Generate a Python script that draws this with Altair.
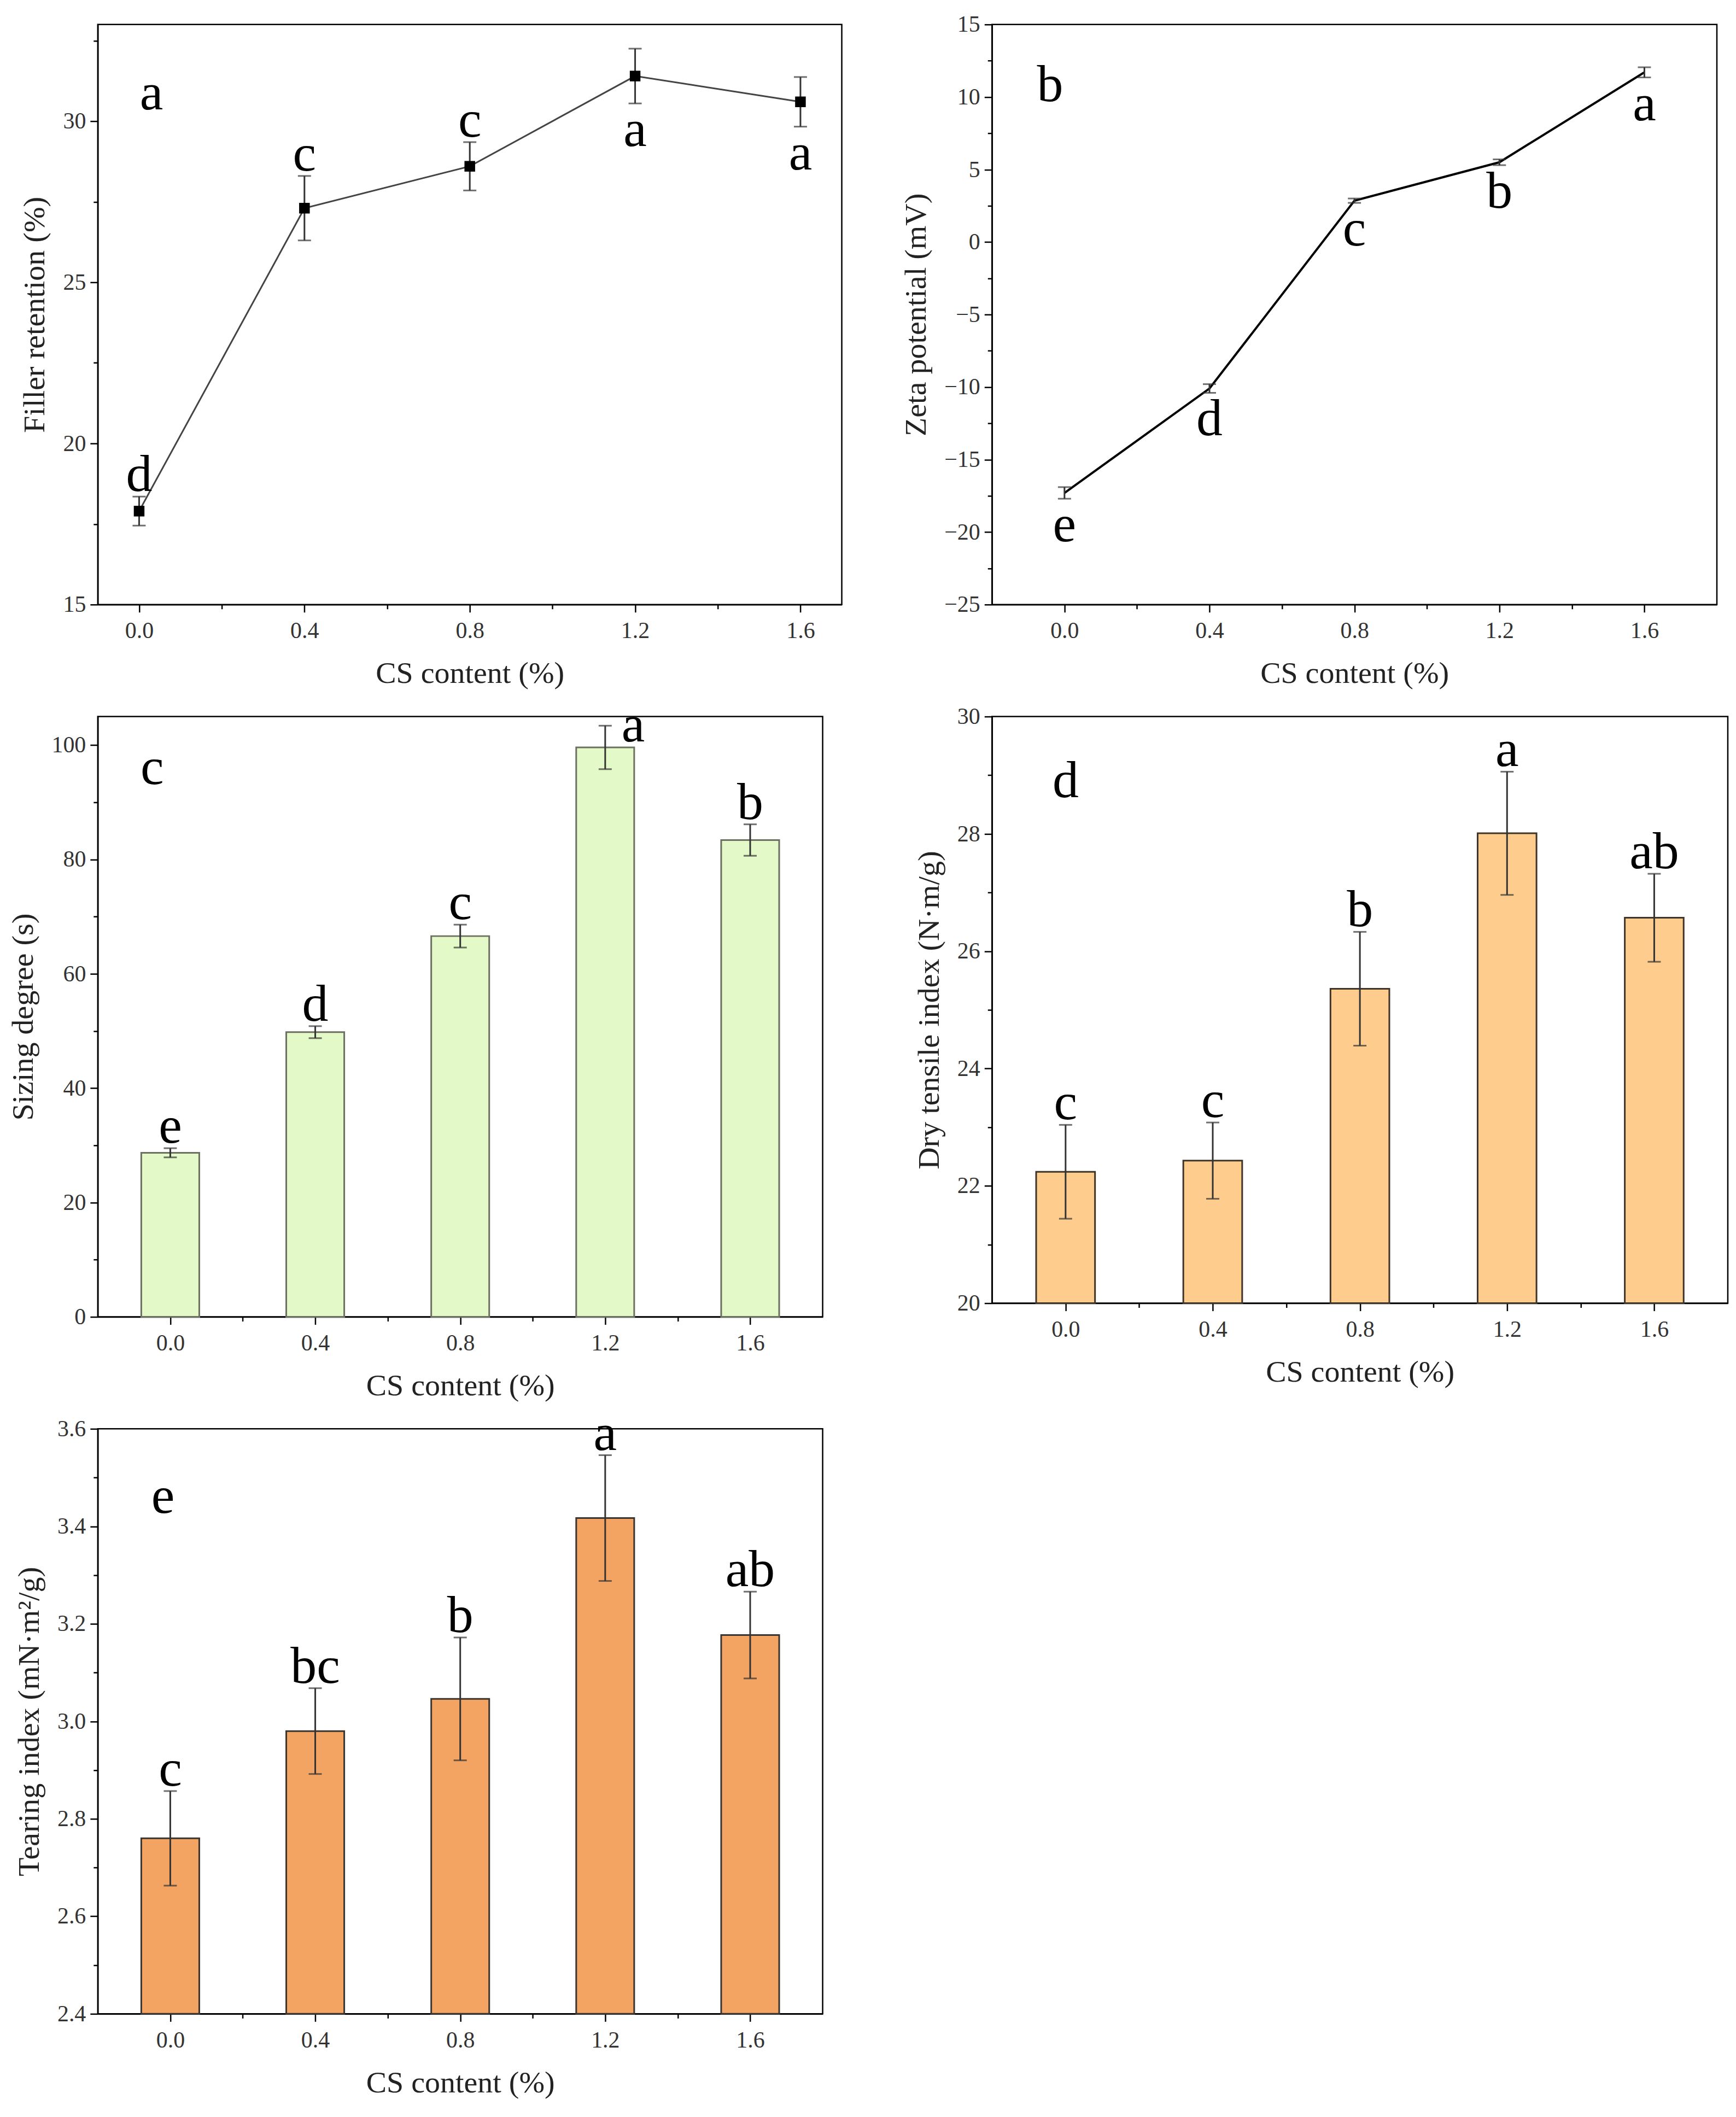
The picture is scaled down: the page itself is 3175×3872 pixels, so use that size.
import altair as alt
import pandas as pd

cs = [0.0, 0.4, 0.8, 1.2, 1.6]

filler = [17.9, 27.3, 28.6, 31.4, 30.6]
filler_err = [0.45, 1.0, 0.75, 0.85, 0.77]
filler_sig = ["d", "c", "c", "a", "a"]
filler_side = ["above", "above", "above", "below", "below"]

zeta = [-17.3, -10.1, 2.85, 5.5, 11.7]
zeta_err = [0.4, 0.3, 0.15, 0.2, 0.35]
zeta_sig = ["e", "d", "c", "b", "a"]
zeta_side = ["below", "below", "below", "below", "below"]

sizing = [28.7, 49.8, 66.6, 99.6, 83.4]
sizing_err = [0.8, 1.05, 2.0, 3.8, 2.75]
sizing_sig = ["e", "d", "c", "a", "b"]
sizing_side = ["above", "above", "above", "right", "above"]

tensile = [22.24, 22.43, 25.36, 28.01, 26.57]
tensile_err = [0.8, 0.65, 0.97, 1.05, 0.75]
tensile_sig = ["c", "c", "b", "a", "ab"]
tensile_side = ["above", "above", "above", "above", "above"]

tearing = [2.76, 2.98, 3.046, 3.417, 3.177]
tearing_err = [0.097, 0.088, 0.126, 0.129, 0.089]
tearing_sig = ["c", "bc", "b", "a", "ab"]
tearing_side = ["above", "above", "above", "above", "above"]

FONT = "Liberation Serif"


def axis(title, values, major, fmt, orient, is_x):
    test = f"abs(datum.value/{major} - round(datum.value/{major})) < 0.001"
    return alt.Axis(
        title=title,
        values=values,
        format=fmt,
        orient=orient,
        labelExpr=f"{test} ? datum.label : ''",
        tickSize={"condition": {"test": test, "value": 14}, "value": 8},
        labelOverlap=False,
        grid=False,
        labelPadding=14 if is_x else 8,
        titlePadding=30 if is_x else 22,
    )


def panel(vals, errs, sig, side, kind, ydom, yvals, ymajor, yfmt, ytitle,
          xdom, w, h, letter, letter_xy, fill=None, stroke=None):
    df = pd.DataFrame({
        "x": cs, "val": vals, "err": errs, "sig": sig, "side": side,
    })
    df["lo"] = df["val"] - df["err"]
    df["hi"] = df["val"] + df["err"]
    df["xl"] = df["x"] - 0.08
    df["xr"] = df["x"] + 0.08

    xv = [0.0, 0.2, 0.4, 0.6, 0.8, 1.0, 1.2, 1.4, 1.6]
    xax = axis("CS content (%)", xv, 0.4, ".1f", "bottom", True)
    yax = axis(ytitle, yvals, ymajor, yfmt, "left", False)
    xs = alt.Scale(domain=xdom, nice=False, zero=False)
    ys = alt.Scale(domain=ydom, nice=False, zero=False)

    def X(f):
        return alt.X(f"{f}:Q", scale=xs, axis=xax)

    def Y(f):
        return alt.Y(f"{f}:Q", scale=ys, axis=yax)

    base = alt.Chart(df)
    layers = []
    if kind == "bar":
        layers.append(base.mark_bar(fill=fill, stroke=stroke, strokeWidth=3).encode(
            x=X("xl"), x2="xr", y=Y("val"), y2=alt.datum(ydom[0])))
    else:
        lc = "#444444" if kind == "line_pts" else "black"
        lw = 3 if kind == "line_pts" else 4
        layers.append(base.mark_line(color=lc, strokeWidth=lw).encode(x=X("x"), y=Y("val")))
    ec = "#333333"
    layers.append(base.mark_rule(color=ec, strokeWidth=3).encode(x=X("x"), y=Y("lo"), y2="hi"))
    layers.append(base.mark_tick(orient="horizontal", size=24, thickness=3, color=ec).encode(
        x=X("x"), y=Y("lo")))
    layers.append(base.mark_tick(orient="horizontal", size=24, thickness=3, color=ec).encode(
        x=X("x"), y=Y("hi")))
    if kind == "line_pts":
        layers.append(base.mark_point(shape="square", filled=True, size=380, color="black",
                                      opacity=1).encode(x=X("x"), y=Y("val")))
    tstyle = dict(font=FONT, fontSize=96, color="black")
    if "above" in side:
        layers.append(base.transform_filter("datum.side == 'above'").mark_text(
            baseline="alphabetic", dy=-10, **tstyle).encode(x=X("x"), y=Y("hi"), text="sig"))
    if "below" in side:
        layers.append(base.transform_filter("datum.side == 'below'").mark_text(
            baseline="top", dy=2, **tstyle).encode(x=X("x"), y=Y("lo"), text="sig"))
    if "right" in side:
        layers.append(base.transform_filter("datum.side == 'right'").mark_text(
            baseline="middle", align="left", dx=30, **tstyle).encode(x=X("x"), y=Y("hi"), text="sig"))
    ldf = pd.DataFrame({"x": [letter_xy[0]], "y": [letter_xy[1]], "t": [letter]})
    layers.append(alt.Chart(ldf).mark_text(baseline="middle", **tstyle).encode(
        x=X("x"), y=Y("y"), text="t"))
    return alt.layer(*layers).properties(width=w, height=h)


a = panel(filler, filler_err, filler_sig, filler_side, "line_pts", [15, 33],
          [15, 17.5, 20, 22.5, 25, 27.5, 30, 32.5], 5, "d", "Filler retention (%)",
          [-0.1, 1.7], 1362, 1062, "a", (0.03, 30.85))
b = panel(zeta, zeta_err, zeta_sig, zeta_side, "line", [-25, 15],
          [-25, -22.5, -20, -17.5, -15, -12.5, -10, -7.5, -5, -2.5, 0, 2.5, 5, 7.5, 10, 12.5, 15],
          5, "d", "Zeta potential (mV)", [-0.2, 1.8], 1327, 1062, "b", (-0.04, 10.8))
c = panel(sizing, sizing_err, sizing_sig, sizing_side, "bar", [0, 105],
          [0, 10, 20, 30, 40, 50, 60, 70, 80, 90, 100], 20, "d", "Sizing degree (s)",
          [-0.2, 1.8], 1327, 1099, "c", (-0.05, 96), fill="#E3F9C8", stroke="#6B7060")
d = panel(tensile, tensile_err, tensile_sig, tensile_side, "bar", [20, 30],
          [20, 21, 22, 23, 24, 25, 26, 27, 28, 29, 30], 2, "d", "Dry tensile index (N·m/g)",
          [-0.2, 1.8], 1347, 1074, "d", (0.0, 28.9), fill="#FECD8E", stroke="#3F3428")
e = panel(tearing, tearing_err, tearing_sig, tearing_side, "bar", [2.4, 3.6],
          [2.4, 2.5, 2.6, 2.7, 2.8, 2.9, 3.0, 3.1, 3.2, 3.3, 3.4, 3.5, 3.6], 0.2, ".1f",
          "Tearing index (mN·m²/g)", [-0.2, 1.8], 1327, 1071, "e", (-0.02, 3.46),
          fill="#F3A462", stroke="#3A3530")

chart = alt.concat(a, b, c, d, e, columns=2, spacing={"row": 205, "column": 275},
                   bounds="flush").properties(
    padding={"left": 5, "top": 12, "right": 5, "bottom": 5}
).configure_view(
    stroke="black", strokeWidth=2.5
).configure_axis(
    domainColor="black", domainWidth=2.5, tickColor="black", tickWidth=2.5,
    labelFont=FONT, labelFontSize=42, labelColor="#333333",
    titleFont=FONT, titleFontSize=56, titleFontWeight="normal", titleColor="#222222",
).configure_text(font=FONT)

chart.save("out.html", embed_options={"renderer": "svg", "actions": False})
